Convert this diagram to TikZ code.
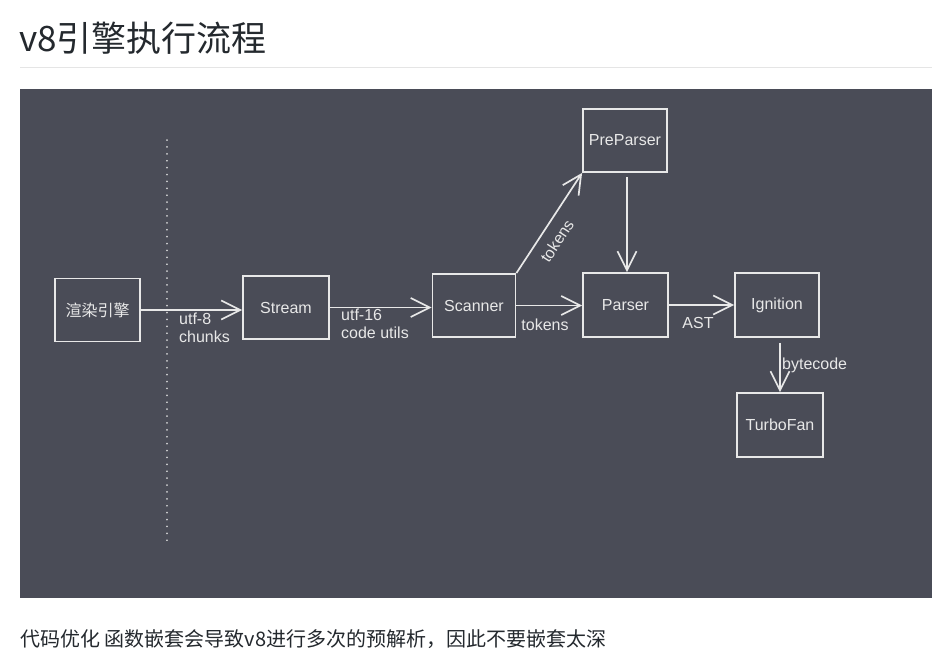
\documentclass[tikz,border=0pt]{standalone}
\usepackage{fontspec}
\setmainfont{Liberation Sans}
\newfontfamily\cjk{Noto Sans CJK SC}
\usetikzlibrary{arrows.meta}
\definecolor{panel}{RGB}{74,76,87}
\definecolor{ink}{RGB}{232,232,232}
\definecolor{rule}{RGB}{229,229,229}
\definecolor{dark}{RGB}{36,41,46}
\tikzset{
  box/.style={draw=ink, line width=1.8pt, minimum width=#1, minimum height=63pt, inner sep=0pt, text=ink, font=\fontsize{16}{18}\selectfont},
  box/.default=85pt,
  arr/.style={draw=ink, line width=1.7pt, -{Straight Barb[length=19pt,width=19pt,line width=1.7pt]}},
  lbl/.style={text=ink, font=\fontsize{16}{18}\selectfont, inner sep=0pt, align=left},
}
\begin{document}
\begin{tikzpicture}[x=1pt,y=-1pt]
\useasboundingbox (0,0) rectangle (944,655);
\fill[white] (0,0) rectangle (944,655);
% title
\node[anchor=base west, inner sep=0pt, text=dark, font=\cjk\fontsize{35}{40}\selectfont] (title) at (19,52) {v8引擎执行流程};
\draw[rule, line width=1pt] (20,68) -- (932,68);
% panel
\fill[panel] (20,89) rectangle (932,598);
% dotted separator
\coordinate (dtop) at (167,140);
\coordinate (dbot) at (167,545);
\draw[ink!85!panel, line width=1.8pt, line cap=round, dash pattern=on 0.1pt off 6.8pt] (dtop) -- (dbot);
% boxes
\node[box=85pt, font=\cjk\fontsize{16}{18}\selectfont] (r) at (97.5,310) {渲染引擎};
\node[box=86pt] (stream) at (286,307.5) {Stream};
\node[box=83pt] (scanner) at (474,305.5) {Scanner};
\node[box=84pt] (pre) at (625,140.5) {PreParser};
\node[box=85pt, minimum height=64pt] (parser) at (625.5,305) {Parser};
\node[box=84pt, minimum height=64pt] (ign) at (777,305) {Ignition};
\node[box=86pt, minimum height=64pt] (turbo) at (780,425) {TurboFan};
% helper coordinates for the vertical arrows
\coordinate (preS) at ([shift={(2,4)}]pre.south);
\coordinate (ignS) at ([shift={(3,5)}]ign.south);
% arrows
\draw[arr] (r.east) -- (stream.west |- r.east);
\draw[arr] (stream.east) -- (scanner.west |- stream.east);
\draw[arr] (scanner.east) -- (parser.west |- scanner.east);
\draw[arr] (scanner.north east) -- (pre.south west);
\draw[arr] (preS) -- (parser.north -| preS);
\draw[arr] (parser.east) -- (ign.west);
\draw[arr] (ignS) -- (turbo.north -| ignS);
% labels
\node[lbl, anchor=north west] (l1) at (179,313) {utf-8\\chunks};
\node[lbl, anchor=north west] (l2) at (341,309) {utf-16\\code utils};
\node[lbl] (l3) at (545,325) {tokens};
\node[lbl, rotate=57] (l4) at (557,241) {tokens};
\node[lbl] (l5) at (698,323) {AST};
\node[lbl, anchor=west] (l6) at (782,365) {bytecode};
% caption
\node[anchor=base west, inner sep=0pt, text=dark, font=\cjk\fontsize{20}{24}\selectfont] (cap) at (20,646) {代码优化 函数嵌套会导致v8进行多次的预解析，因此不要嵌套太深};
\end{tikzpicture}
\end{document}
